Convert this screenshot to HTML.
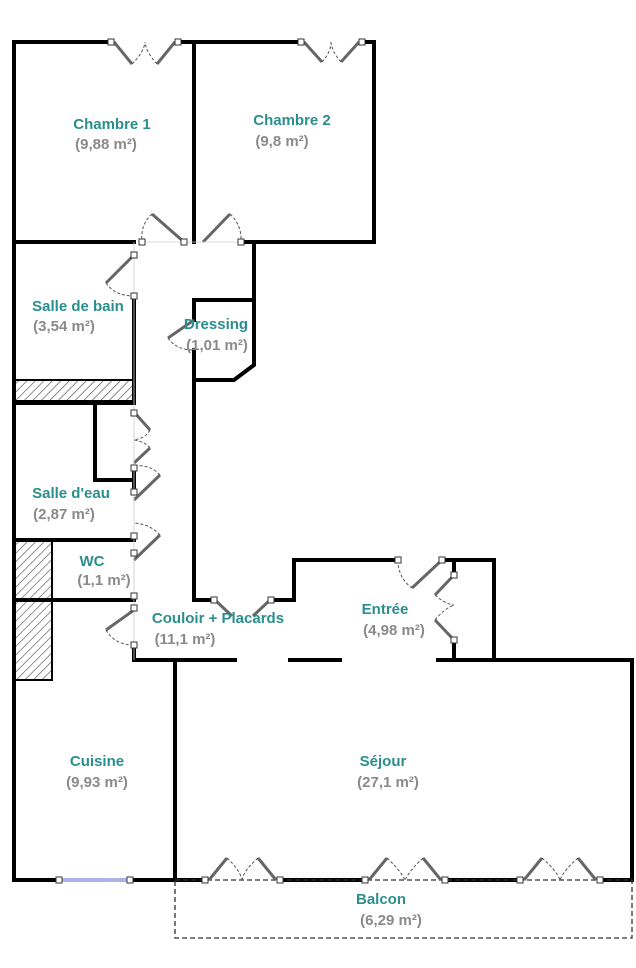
<!DOCTYPE html>
<html><head><style>
body{margin:0;background:#fff}
svg{display:block}
text{font-family:"Liberation Sans",sans-serif;font-weight:bold;font-size:15px;text-anchor:middle}
.n{fill:#2a8f8c}.a{fill:#8a8a8a}
.w{stroke:#000;stroke-width:4;fill:none;stroke-linecap:square}
.d{stroke:#555;stroke-width:1;fill:none;stroke-dasharray:3,2}
.l{stroke:#666;stroke-width:3;fill:none}
.s{fill:#fff;stroke:#333;stroke-width:1}
</style></head><body>
<svg width="636" height="968" viewBox="0 0 636 968">
<defs><pattern id="h" width="6" height="6" patternUnits="userSpaceOnUse" patternTransform="rotate(45)"><line x1="0" y1="0" x2="0" y2="6" stroke="#444" stroke-width="1.2"/></pattern></defs>
<rect x="14" y="380" width="120" height="21" fill="url(#h)" stroke="#000" stroke-width="2"/>
<rect x="14" y="540" width="38" height="60" fill="url(#h)" stroke="#000" stroke-width="2"/>
<rect x="14" y="600" width="38" height="80" fill="url(#h)" stroke="#000" stroke-width="2"/>
<g class="w">
<polyline points="14,880 14,42 110,42"/>
<line x1="178" y1="42" x2="300" y2="42"/>
<line x1="362" y1="42" x2="374" y2="42"/>
<line x1="374" y1="42" x2="374" y2="242"/>
<line x1="194" y1="42" x2="194" y2="242"/>
<line x1="14" y1="242" x2="134" y2="242"/>
<line x1="241" y1="242" x2="254" y2="242"/>
<line x1="254" y1="242" x2="374" y2="242"/>
<polyline points="254,242 254,365 234,380 194,380"/>
<polyline points="194,320 194,300 254,300"/>
<line x1="194" y1="350" x2="194" y2="560"/>
<line x1="134" y1="295" x2="134" y2="401"/>
<line x1="14" y1="403" x2="134" y2="403"/>
<polyline points="95,403 95,480 134,480"/>
<line x1="134" y1="470" x2="134" y2="490"/>
<line x1="14" y1="540" x2="134" y2="540"/>
<line x1="14" y1="600" x2="134" y2="600"/>
<line x1="134" y1="645" x2="134" y2="660"/>
<polyline points="194,560 194,600 215,600"/>
<line x1="270" y1="600" x2="294" y2="600"/>
<polyline points="294,600 294,560 398,560"/>
<polyline points="442,560 494,560 494,660"/>
<line x1="454" y1="560" x2="454" y2="575"/>
<line x1="454" y1="640" x2="454" y2="660"/>
<line x1="134" y1="660" x2="235" y2="660"/>
<line x1="290" y1="660" x2="340" y2="660"/>
<line x1="438" y1="660" x2="632" y2="660"/>
<line x1="175" y1="660" x2="175" y2="880"/>
<line x1="632" y1="660" x2="632" y2="880"/>
<line x1="14" y1="880" x2="60" y2="880"/>
<line x1="130" y1="880" x2="205" y2="880"/>
<line x1="280" y1="880" x2="365" y2="880"/>
<line x1="445" y1="880" x2="520" y2="880"/>
<line x1="600" y1="880" x2="632" y2="880"/>
</g>
<line x1="60" y1="880" x2="130" y2="880" stroke="#5566cc" stroke-width="3"/>
<line x1="60" y1="880" x2="130" y2="880" stroke="#fff" stroke-width="1"/>
<rect x="175" y="880" width="457" height="58" fill="none" stroke="#333" stroke-width="1.3" stroke-dasharray="5,3"/>
<g>
<path class="l" d="M114,42 L132,64 M175,42 L157,64 M304,42 L322,62 M359,42 L341,62 M209,880 L227,858 M276,880 L258,858 M369,880 L387,858 M441,880 L423,858 M524,880 L542,858 M596,880 L578,858"/>
<path class="d" d="M132,64 Q144,52 145,42 M157,64 Q146,52 145,42 M322,62 Q331,52 331,42 M341,62 Q332,52 331,42 M227,858 Q240,870 242,880 M258,858 Q244,870 242,880 M387,858 Q400,870 405,880 M423,858 Q410,870 405,880 M542,858 Q556,870 560,880 M578,858 Q564,870 560,880"/>
<path class="l" d="M184,242 L152,214 M203,242 L230,214 M134,255 L106,283 M194,320 L168,338 M134,412 L150,430 M134,463 L150,448 M134,500 L160,475 M134,560 L160,535 M134,610 L106,630 M215,600 L232,616 M270,600 L253,616 M442,560 L412,588 M454,575 L435,595 M454,640 L435,620"/>
<path class="d" d="M152,214 Q140,225 142,242 M230,214 Q242,225 241,242 M106,283 Q115,296 134,296 M168,338 Q176,350 194,350 M150,430 Q146,438 134,440 M150,448 Q146,442 134,440 M160,475 Q150,464 134,466 M160,535 Q150,524 134,523 M106,630 Q115,645 134,645 M398,560 Q398,578 412,588 M435,595 Q445,604 454,605 M435,620 Q445,608 454,605"/>
<line x1="134" y1="242" x2="134" y2="660" stroke="#ccc" stroke-width="0.8"/>
<line x1="142" y1="242" x2="241" y2="242" stroke="#ccc" stroke-width="0.8"/>
<g class="s">
<rect x="108" y="39" width="6" height="6"/><rect x="175" y="39" width="6" height="6"/>
<rect x="298" y="39" width="6" height="6"/><rect x="359" y="39" width="6" height="6"/>
<rect x="139" y="239" width="6" height="6"/><rect x="181" y="239" width="6" height="6"/><rect x="238" y="239" width="6" height="6"/>
<rect x="131" y="252" width="6" height="6"/><rect x="131" y="293" width="6" height="6"/>
<rect x="131" y="410" width="6" height="6"/><rect x="131" y="465" width="6" height="6"/>
<rect x="131" y="489" width="6" height="6"/><rect x="131" y="533" width="6" height="6"/>
<rect x="131" y="550" width="6" height="6"/><rect x="131" y="593" width="6" height="6"/>
<rect x="131" y="605" width="6" height="6"/><rect x="131" y="642" width="6" height="6"/>
<rect x="211" y="597" width="6" height="6"/><rect x="268" y="597" width="6" height="6"/>
<rect x="395" y="557" width="6" height="6"/><rect x="439" y="557" width="6" height="6"/>
<rect x="451" y="572" width="6" height="6"/><rect x="451" y="637" width="6" height="6"/>
<rect x="56" y="877" width="6" height="6"/><rect x="127" y="877" width="6" height="6"/>
<rect x="202" y="877" width="6" height="6"/><rect x="277" y="877" width="6" height="6"/>
<rect x="362" y="877" width="6" height="6"/><rect x="442" y="877" width="6" height="6"/>
<rect x="517" y="877" width="6" height="6"/><rect x="597" y="877" width="6" height="6"/>
</g>
</g>
<text class="n" x="112" y="129">Chambre 1</text><text class="a" x="106" y="149">(9,88 m²)</text>
<text class="n" x="292" y="125">Chambre 2</text><text class="a" x="282" y="146">(9,8 m²)</text>
<text class="n" x="78" y="311">Salle de bain</text><text class="a" x="64" y="331">(3,54 m²)</text>
<text class="n" x="216" y="329">Dressing</text><text class="a" x="217" y="350">(1,01 m²)</text>
<text class="n" x="71" y="498">Salle d'eau</text><text class="a" x="64" y="519">(2,87 m²)</text>
<text class="n" x="92" y="566">WC</text><text class="a" x="104" y="585">(1,1 m²)</text>
<text class="n" x="218" y="623">Couloir + Placards</text><text class="a" x="185" y="644">(11,1 m²)</text>
<text class="n" x="385" y="614">Entrée</text><text class="a" x="394" y="635">(4,98 m²)</text>
<text class="n" x="97" y="766">Cuisine</text><text class="a" x="97" y="787">(9,93 m²)</text>
<text class="n" x="383" y="766">Séjour</text><text class="a" x="388" y="787">(27,1 m²)</text>
<text class="n" x="381" y="904">Balcon</text><text class="a" x="391" y="925">(6,29 m²)</text>
</svg>
</body></html>
